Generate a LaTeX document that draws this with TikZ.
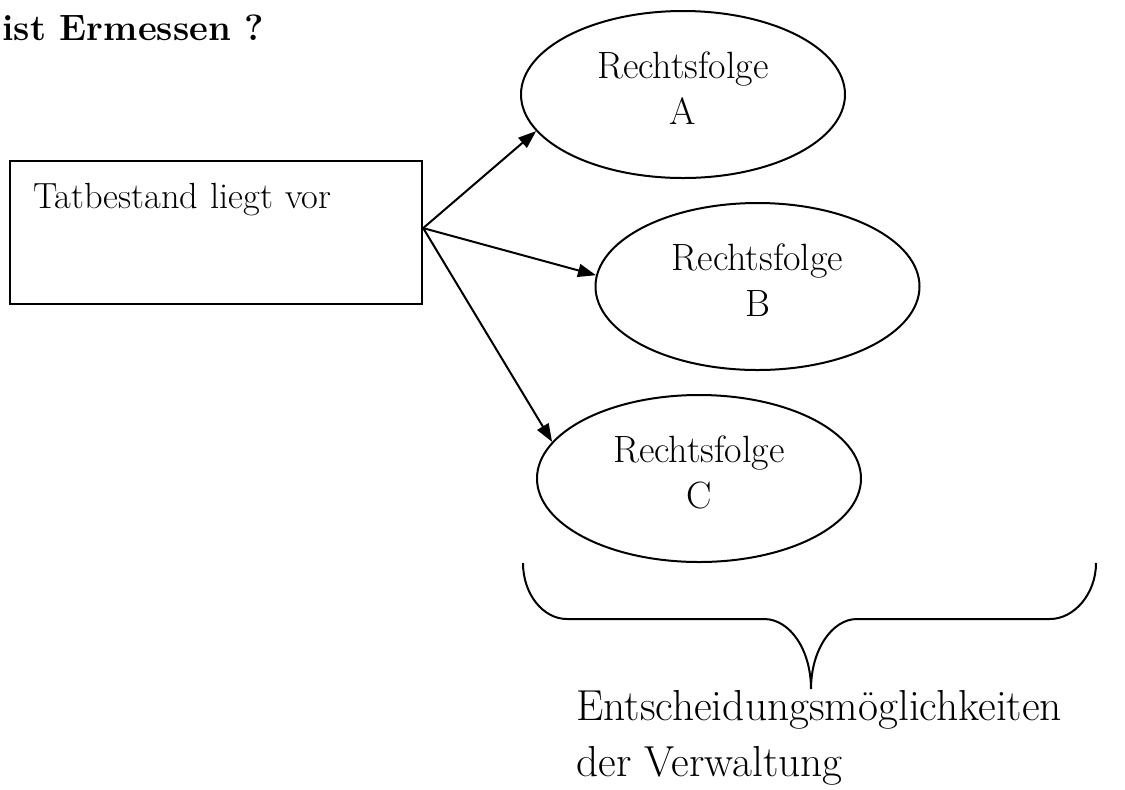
\documentclass[tikz,border=0pt]{standalone}
\usepackage{fontspec}
\usetikzlibrary{arrows.meta, calc, shapes.geometric}
\tikzstyle{factbox}= [draw, line width=1.1pt, anchor=north west, inner xsep=11.5pt, inner ysep=0pt, text width=183pt, align=left, text height=23.5pt, text depth=48pt, font=\fontsize{18.2pt}{22pt}\selectfont]
\tikzstyle{result}= [draw, ellipse, line width=1pt, inner sep=0pt, minimum width=162pt, minimum height=83.5pt, align=center, text depth=6pt, font=\fontsize{19pt}{23pt}\selectfont]

\begin{document}
\begin{tikzpicture}[x=0.5pt, y=-0.5pt, >={Triangle[length=9pt, width=6.5pt]}]
    \useasboundingbox (0,0) rectangle (1125,789);

    % heading, cut at the left edge
    \node [anchor=base west, inner sep=0pt, font=\bfseries\fontsize{18.3pt}{22pt}\selectfont] (title) at (2,40) {ist Ermessen ?};

    \node [factbox] (fact) at (9,160) {Tatbestand liegt vor};
    \node [result] (resA) at (683,94.5) {Rechtsfolge\\A};
    \node [result] (resB) at (757.5,286.5) {Rechtsfolge\\B};
    \node [result] (resC) at (699,478.5) {Rechtsfolge\\C};

    % arrows out of the box
    \coordinate (fork) at ([yshift=2.25pt]fact.east);
    \draw[->, line width=1pt] (fork) -- (resA.194);
    \draw[->, line width=1pt] (fork) -- (resB.176);
    \draw[->, line width=1pt] (fork) -- (resC.166);

    % brace under the results
    \coordinate (tip) at (811,689);
    \draw[line width=1pt] (523,563)
    .. controls (523,594) and (543,619) .. (567,619)
    -- (764,619)
    .. controls (790,619) and (811,650) .. (tip)
    .. controls (811,650) and (832,619) .. (857,619)
    -- (1050,619)
    .. controls (1074,619) and (1096,594) .. (1096,563);

    % base anchor sits on the last line
    \node [anchor=base west, inner sep=0pt, align=left, font=\fontsize{21.7pt}{28pt}\selectfont] (choices) at (576,776) {Entscheidungsmöglichkeiten\\der Verwaltung};

\end{tikzpicture}
\end{document}
